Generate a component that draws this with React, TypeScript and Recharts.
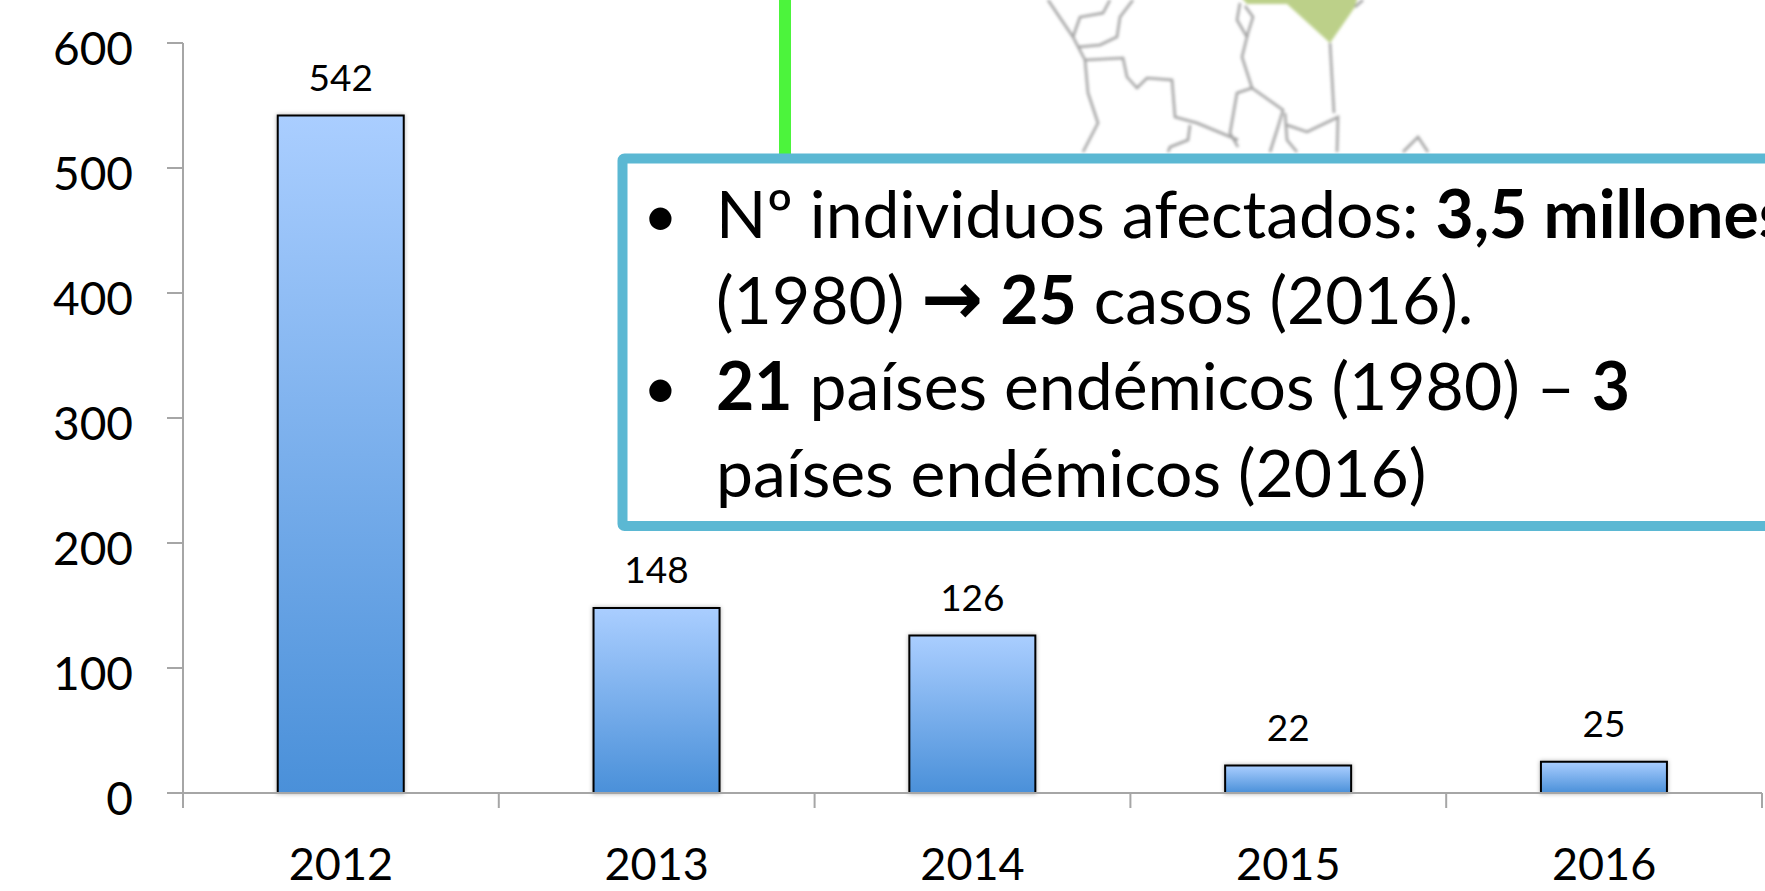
import { BarChart, Bar, XAxis, YAxis, LabelList } from 'recharts';

const YEARS = ['2012', '2013', '2014', '2015', '2016'];
const CASES = [542, 148, 126, 22, 25];
const Y_TICKS = [0, 100, 200, 300, 400, 500, 600];

const MAP_LINES = [
  '1048,0 1073,37 1085,60 1088,93 1098,123 1083,152',
  '1110,0 1103,13 1080,17 1073,37',
  '1133,0 1120,17 1117,37 1100,45 1078,47',
  '1085,60 1123,58 1127,77 1137,88 1147,78 1172,80 1175,117 1197,123 1238,140',
  '1190,125 1188,140 1170,147 1168,152',
  '1240,3 1237,20 1247,37 1242,57 1252,88 1283,110 1278,127 1270,152',
  '1245,6 1253,17 1248,33 1247,37',
  '1252,88 1237,93 1230,133 1238,147',
  '1287,125 1307,132 1338,117 1337,152',
  '1285,113 1287,140 1297,152',
  '1330,43 1334,113',
  '1403,152 1418,137 1428,152',
  '1355,7 1363,0',
];

const data = YEARS.map((year, i) => ({ year, cases: CASES[i] }));

const FONT = 'Lato, "Open Sans", sans-serif';
const AXIS_GREY = '#A6A6A6';
const LABEL_GAP = 71;

function YTick({ x, y, payload }: any) {
  return (
    <text x={x} y={y + 5} dy="0.36em" textAnchor="end" fontFamily={FONT} fontSize={46} fill="#000">
      {payload.value}
    </text>
  );
}

// ticks sit on the category edges, not under the bars
function XTick({ x, y, payload, width, visibleTicksCount, index }: any) {
  const band = width / visibleTicksCount;
  const axisY = y - LABEL_GAP;
  return (
    <g>
      {index === 0 && <line x1={x - band / 2} x2={x - band / 2} y1={axisY} y2={axisY + 15} stroke={AXIS_GREY} strokeWidth={2} />}
      <line x1={x + band / 2} x2={x + band / 2} y1={axisY} y2={axisY + 15} stroke={AXIS_GREY} strokeWidth={2} />
      <text x={x} y={y} dy="0.36em" textAnchor="middle" fontFamily={FONT} fontSize={45} fill="#000">
        {payload.value}
      </text>
    </g>
  );
}

function Overlay() {
  const text = { fontFamily: FONT, fontSize: 66, fill: '#000' };
  const bullet = { fontFamily: FONT, fontSize: 60, fill: '#000' };
  return (
    <svg width={1765} height={891} style={{ position: 'absolute', left: 0, top: 0, pointerEvents: 'none' }}>
      <defs>
        <filter id="mapBlur" x="-5%" y="-5%" width="110%" height="110%">
          <feGaussianBlur stdDeviation="1.7" />
        </filter>
      </defs>
      <rect x={779} y={0} width={12} height={156} fill="#4CF43C" />
      <g filter="url(#mapBlur)">
        <polygon points="1240,-4 1247,4 1287,4 1330,43 1355,7 1358,-4" fill="#BCD089" />
        {MAP_LINES.map((points) => (
          <polyline key={points} points={points} fill="none" stroke="#A0A0A0" strokeWidth={2.5} />
        ))}
      </g>
      <rect x={622.5} y={158.5} width={1160} height={367.5} rx={2} fill="#fff" stroke="#5BB8D3" strokeWidth={10} />
      <text x={643} y={237} {...bullet}>•</text>
      <text x={643} y={409} {...bullet}>•</text>
      <text x={716} y={238} {...text}>
        Nº individuos afectados: <tspan fontWeight={700}>3,5 millones</tspan>
      </text>
      <text x={716} y={324} {...text}>
        (1980) <tspan fontFamily="DejaVu Sans" fontWeight={700} fontSize={74}>→</tspan> <tspan fontWeight={700}>25</tspan> casos (2016).
      </text>
      <text x={716} y={410} {...text}>
        <tspan fontWeight={700}>21</tspan> países endémicos (1980) – <tspan fontWeight={700}>3</tspan>
      </text>
      <text x={716} y={497} {...text}>países endémicos (2016)</text>
    </svg>
  );
}

export default function App() {
  return (
    <div style={{ position: 'absolute', left: 0, top: 0, width: 1765, height: 891, background: '#fff', overflow: 'hidden' }}>
      <BarChart width={1765} height={891} data={data} barCategoryGap="30%" margin={{ top: 43, right: 3, bottom: 0, left: 0 }}>
        <defs>
          <linearGradient id="barFill" x1="0" y1="0" x2="0" y2="1">
            <stop offset="0%" stopColor="#AACEFF" />
            <stop offset="100%" stopColor="#4A90D9" />
          </linearGradient>
        </defs>
        <XAxis
          dataKey="year"
          height={98}
          tick={<XTick />}
          tickLine={false}
          tickSize={0}
          tickMargin={LABEL_GAP}
          interval={0}
          stroke={AXIS_GREY}
          strokeWidth={2}
        />
        <YAxis
          domain={[0, 600]}
          ticks={Y_TICKS}
          width={183}
          tick={<YTick />}
          tickSize={16}
          tickMargin={34}
          stroke={AXIS_GREY}
          strokeWidth={2}
        />
        <Bar
          dataKey="cases"
          fill="url(#barFill)"
          stroke="#000"
          strokeWidth={2}
          style={{ filter: 'drop-shadow(0 0 2px rgba(0,0,0,0.3))' }}
          isAnimationActive={false}
        >
          <LabelList dataKey="cases" position="top" offset={25} fontFamily={FONT} fontSize={37} fill="#000" />
        </Bar>
      </BarChart>
      <Overlay />
    </div>
  );
}
